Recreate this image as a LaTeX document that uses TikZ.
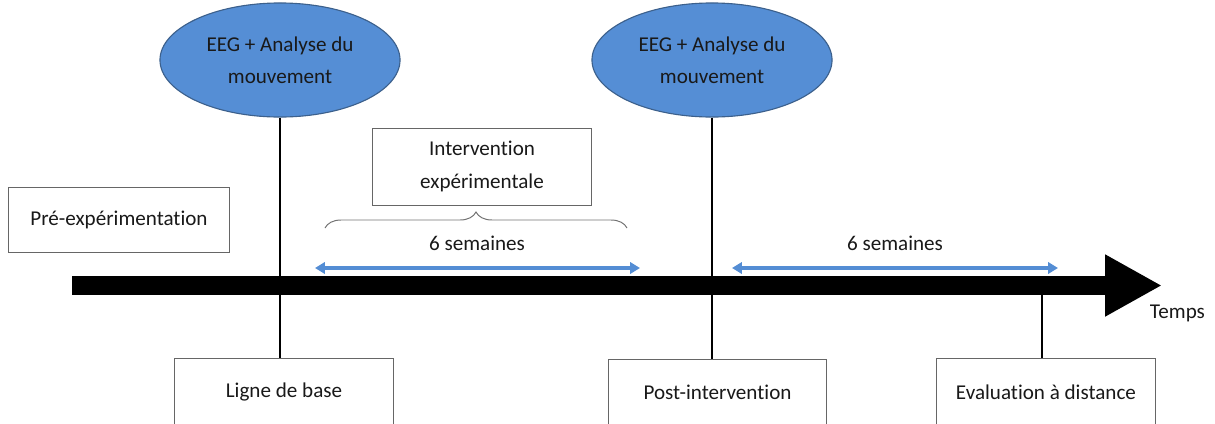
\documentclass[tikz,border=0pt]{standalone}
\usepackage{fontspec}
\setmainfont[Ligatures=NoCommon]{Carlito}
\usepackage{tikz}
\usetikzlibrary{positioning,shapes.geometric,arrows.meta,decorations.pathreplacing}
\definecolor{eegblue}{RGB}{85,142,213}
\definecolor{eegline}{RGB}{60,96,140}
\definecolor{spanblue}{RGB}{84,141,212}

\begin{document}
\begin{tikzpicture}[
  x=0.025cm, y=-0.025cm,
  every node/.style={font=\fontsize{15}{23}\selectfont, text=black!90},
  eeg/.style={ellipse, draw=eegline, fill=eegblue, line width=0.8pt, minimum width=6cm, minimum height=2.85cm, inner sep=0pt, align=center},
  box/.style={draw=black!60, line width=0.7pt, minimum width=5.45cm, align=center},
  span/.style={draw=spanblue, line width=2.2pt, {Triangle[length=7pt,width=8pt]}-{Triangle[length=7pt,width=8pt]}},
  stem/.style={draw=black, line width=1.6pt}
]
\useasboundingbox (0,0) rectangle (1215,423);
% time axis
\coordinate (t0) at (72,285.5);
\coordinate (t1) at (1162,285.5);
\coordinate (t2) at (1042,285.5);
\node[anchor=north west] (temps) at (1145,300) {Temps};
% measurement points
\node[eeg] (eeg1) at (280,60) {EEG + Analyse du\\mouvement};
\node[eeg] (eeg2) at (712,60) {EEG + Analyse du\\mouvement};
\node[box, minimum height=1.675cm] (base) at (284,392) {Ligne de base};
\node[box, minimum height=1.675cm] (post) at (717.5,392.5) {Post-intervention};
\node[box, minimum height=1.675cm] (dist) at (1046,392) {Evaluation \`a distance};
\node[box, minimum width=5.5cm, minimum height=1.625cm] (pre) at (119,219.5) {Pr\'e-exp\'erimentation};
\node[box, minimum height=1.925cm] (interv) at (482,166.5) {Intervention\\exp\'erimentale};
\node (sem1) at (477,243) {6 semaines};
\node (sem2) at (895,243) {6 semaines};
\coordinate (a1) at (315,268);
\coordinate (b1) at (640,268);
\coordinate (a2) at (732,268);
\coordinate (b2) at (1058,268);
\coordinate (c1) at (325,228);
\coordinate (c2) at (627,228);
\draw[stem] (eeg1.south) -- (eeg1.south |- base.north);
\draw[stem] (eeg2.south) -- (eeg2.south |- post.north);
\draw[stem] (t2) -- (t2 |- dist.north);
\draw[line width=0.475cm, -{Triangle[length=1.425cm,width=1.45cm]}] (t0) -- (t1);
\draw[span] (a1) -- (b1);
\draw[span] (a2) -- (b2);
\draw[draw=black!55, line width=0.7pt, decorate, decoration={brace, amplitude=0.4cm}] (c1) -- (c2);
\end{tikzpicture}
\end{document}
